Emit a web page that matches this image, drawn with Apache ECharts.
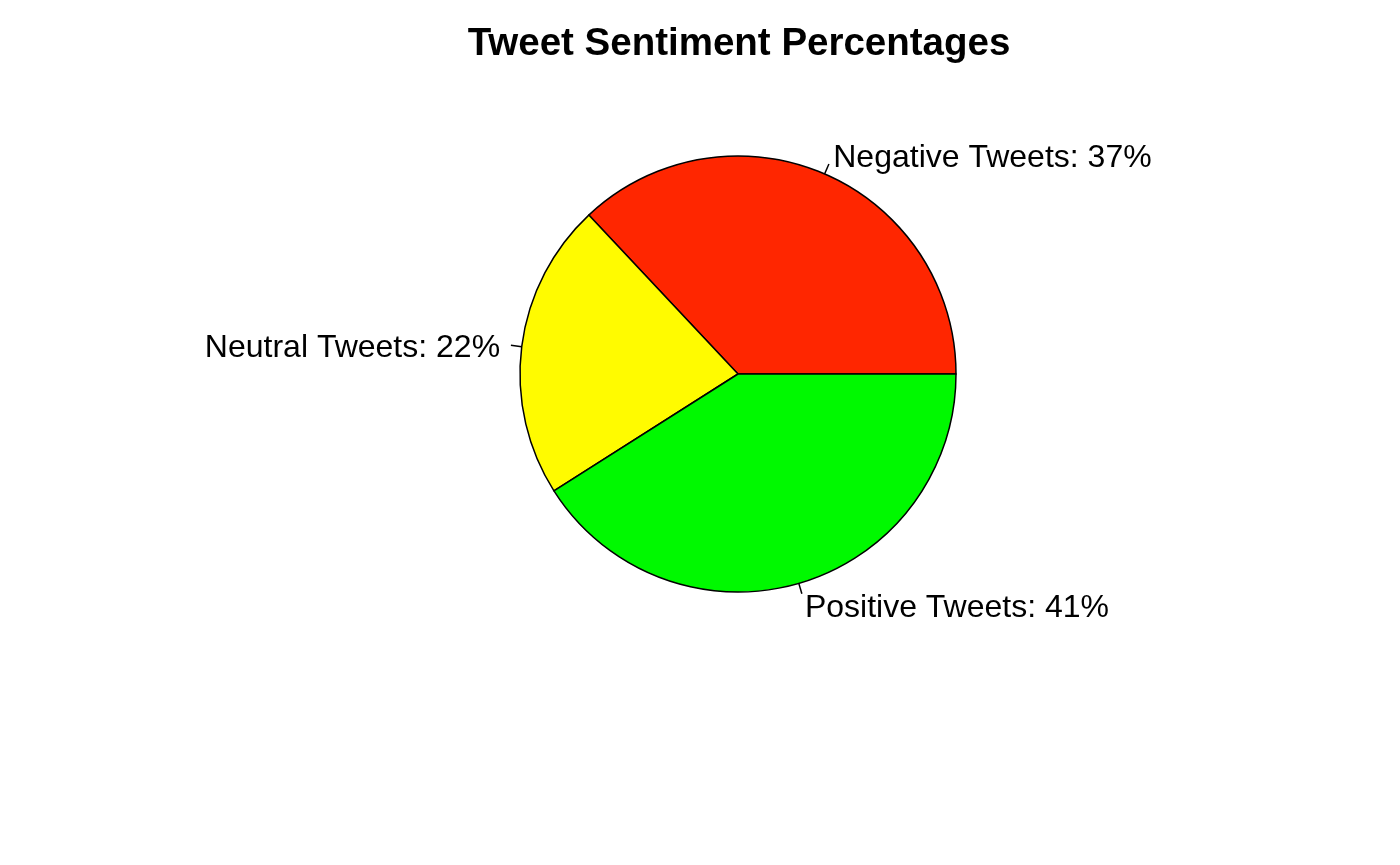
<!DOCTYPE html>
<html>
<head>
<meta charset="utf-8">
<script src="https://cdn.jsdelivr.net/npm/echarts@6/dist/echarts.min.js"></script>
<style>
  html, body { margin: 0; padding: 0; background: #fff; }
  #chart { width: 1400px; height: 865px; }
</style>
</head>
<body>
<div id="chart"></div>
<script>
// 数据
const categories = ['Negative Tweets', 'Neutral Tweets', 'Positive Tweets'];
const percents = [37, 22, 41];
const colors = ['#FF2600', '#FFFB00', '#00F900'];

const chart = echarts.init(document.getElementById('chart'));

const R = 218;
const tick = R * 0.05; // R 的 pie() 标签短线长度

chart.setOption({
  animation: false,
  title: {
    text: 'Tweet Sentiment Percentages',
    left: 734,
    textAlign: 'center',
    top: 20,
    textStyle: {
      fontFamily: 'Liberation Sans, Arial, sans-serif',
      fontWeight: 'bold',
      fontSize: 38.5,
      color: '#000'
    }
  },
  series: [{
    type: 'pie',
    center: [738, 374],
    radius: [0, R],
    startAngle: 0,
    clockwise: false,
    data: categories.map((c, i) => ({
      name: c,
      value: percents[i],
      itemStyle: { color: colors[i] }
    })),
    itemStyle: { borderColor: '#000', borderWidth: 1.5 },
    emphasis: { disabled: true },
    label: {
      show: true,
      formatter: p => p.name + ': ' + p.value + '%',
      fontFamily: 'Liberation Sans, Arial, sans-serif',
      fontSize: 32,
      color: '#000',
      distanceToLabelLine: 0
    },
    labelLine: {
      show: true,
      length: tick,
      length2: 0,
      smooth: false,
      lineStyle: { color: '#000', width: 1.5 }
    },
    labelLayout: function (params) {
      const pts = params.labelLinePoints;
      if (!pts) return {};
      const dx = pts[1][0] - pts[0][0];
      const dy = pts[1][1] - pts[0][1];
      const len = Math.sqrt(dx * dx + dy * dy) || 1;
      return {
        dx: dx / len * tick,
        dy: dy / len * tick + 4,
        labelLinePoints: pts
      };
    }
  }]
});
</script>
</body>
</html>
